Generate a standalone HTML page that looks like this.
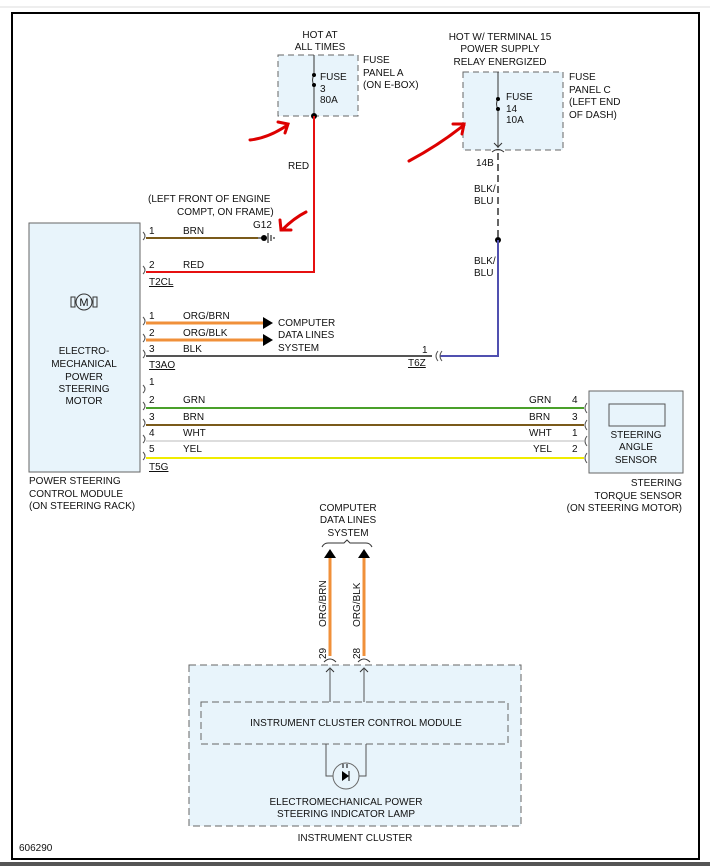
<!DOCTYPE html>
<html><head><meta charset="utf-8"><style>
html,body{margin:0;padding:0;background:#fff}
svg{display:block}
text{font-family:"Liberation Sans",sans-serif;font-size:10px;fill:#111}
</style></head><body>
<svg width="710" height="866" viewBox="0 0 710 866" xmlns="http://www.w3.org/2000/svg">
<line x1="0" y1="7" x2="710" y2="7" stroke="#ddd" stroke-width="1"/>
<rect x="12" y="13" width="687" height="846" fill="#fff" stroke="#000" stroke-width="2"/>
<rect x="0" y="862" width="710" height="4" fill="#555"/>

<!-- Fuse panel A -->
<rect x="278" y="55" width="80" height="61" fill="#e8f4fb" stroke="#666" stroke-dasharray="6,4"/>
<line x1="314" y1="55" x2="314" y2="75" stroke="#333"/>
<path d="M314 75 q-3 5 0 10" fill="none" stroke="#333"/>
<line x1="314" y1="85" x2="314" y2="116" stroke="#333"/>
<circle cx="314" cy="75" r="2" fill="#000"/><circle cx="314" cy="85" r="2" fill="#000"/>
<circle cx="314" cy="116" r="3" fill="#000"/>
<text x="320" y="80">FUSE</text><text x="320" y="92">3</text><text x="320" y="103">80A</text>
<text x="363" y="63">FUSE</text><text x="363" y="76">PANEL A</text><text x="363" y="88">(ON E-BOX)</text>
<text x="320" y="38" text-anchor="middle">HOT AT</text><text x="320" y="50" text-anchor="middle">ALL TIMES</text>
<path d="M314 116 V272 H146" fill="none" stroke="#e61010" stroke-width="2"/>
<text x="288" y="169">RED</text>

<!-- Fuse panel C -->
<rect x="463" y="72" width="100" height="78" fill="#e8f4fb" stroke="#666" stroke-dasharray="6,4"/>
<line x1="498" y1="72" x2="498" y2="99" stroke="#333"/>
<path d="M498 99 q-3 5 0 10" fill="none" stroke="#333"/>
<line x1="498" y1="109" x2="498" y2="148" stroke="#333"/>
<circle cx="498" cy="99" r="2" fill="#000"/><circle cx="498" cy="109" r="2" fill="#000"/>
<path d="M494 143 l4 4 l4 -4 M492 152 q6 -5 12 0" fill="none" stroke="#333"/>
<text x="506" y="100">FUSE</text><text x="506" y="112">14</text><text x="506" y="123">10A</text>
<text x="569" y="80">FUSE</text><text x="569" y="93">PANEL C</text><text x="569" y="105">(LEFT END</text><text x="569" y="118">OF DASH)</text>
<text x="500" y="40" text-anchor="middle">HOT W/ TERMINAL 15</text>
<text x="500" y="52" text-anchor="middle">POWER SUPPLY</text>
<text x="500" y="65" text-anchor="middle">RELAY ENERGIZED</text>
<text x="476" y="166">14B</text>
<line x1="498" y1="153" x2="498" y2="240" stroke="#666" stroke-width="2" stroke-dasharray="7,4"/>
<circle cx="498" cy="240" r="3" fill="#000"/>
<path d="M498 240 V356 H440" fill="none" stroke="#5050b0" stroke-width="2"/>
<text x="474" y="192">BLK/</text><text x="474" y="204">BLU</text>
<text x="474" y="264">BLK/</text><text x="474" y="276">BLU</text>

<!-- red arrows -->
<path d="M250 140 q18 -2 36 -14 M278 122 l10 2 l-3 9" fill="none" stroke="#d00" stroke-width="3" stroke-linecap="round"/>
<path d="M409 161 q30 -16 55 -36 M453 124 l11 0 l-2 10" fill="none" stroke="#d00" stroke-width="3" stroke-linecap="round"/>
<path d="M306 212 q-12 6 -24 18 M280 220 l1 10 l10 0" fill="none" stroke="#d00" stroke-width="3" stroke-linecap="round"/>

<!-- left module -->
<rect x="29" y="223" width="111" height="249" fill="#e8f4fb" stroke="#666"/>
<rect x="71" y="297" width="4" height="10" fill="none" stroke="#333"/>
<rect x="93" y="297" width="4" height="10" fill="none" stroke="#333"/>
<circle cx="84" cy="302" r="8" fill="#e8f4fb" stroke="#333"/>
<text x="84" y="306" text-anchor="middle" style="font-size:11px">M</text>
<text x="84" y="354" text-anchor="middle">ELECTRO-</text>
<text x="84" y="367" text-anchor="middle">MECHANICAL</text>
<text x="84" y="380" text-anchor="middle">POWER</text>
<text x="84" y="392" text-anchor="middle">STEERING</text>
<text x="84" y="404" text-anchor="middle">MOTOR</text>
<text x="29" y="484">POWER STEERING</text>
<text x="29" y="497">CONTROL MODULE</text>
<text x="29" y="509">(ON STEERING RACK)</text>

<g fill="none" stroke="#555">
<path d="M143 232 q4 4 0 8 M143 266 q4 4 0 8 M143 317 q4 4 0 8 M143 334 q4 4 0 8 M143 350 q4 4 0 8 M143 385 q4 4 0 8 M143 402 q4 4 0 8 M143 419 q4 4 0 8 M143 435 q4 4 0 8 M143 452 q4 4 0 8"/>
</g>
<line x1="146" y1="238" x2="258" y2="238" stroke="#7a5a1a" stroke-width="2"/>
<line x1="258" y1="238" x2="266" y2="238" stroke="#000"/>
<circle cx="264" cy="238" r="3" fill="#000"/>
<path d="M268 233 v10 M271 235 v6 M274 237 v2" stroke="#000"/>
<text x="253" y="228">G12</text>
<text x="148" y="202">(LEFT FRONT OF ENGINE</text>
<text x="177" y="215">COMPT, ON FRAME)</text>
<text x="149" y="234">1</text><text x="183" y="234">BRN</text>
<text x="149" y="268">2</text><text x="183" y="268">RED</text>
<text x="149" y="285" text-decoration="underline">T2CL</text>

<line x1="146" y1="323" x2="264" y2="323" stroke="#f0903a" stroke-width="3"/>
<line x1="146" y1="340" x2="264" y2="340" stroke="#f0903a" stroke-width="3"/>
<path d="M263 317 l10 6 l-10 6z M263 334 l10 6 l-10 6z" fill="#000"/>
<line x1="146" y1="356" x2="432" y2="356" stroke="#555" stroke-width="2"/>
<path d="M438 351 q-4 5 0 10 M442 351 q-4 5 0 10" fill="none" stroke="#555"/>
<text x="149" y="319">1</text><text x="183" y="319">ORG/BRN</text>
<text x="149" y="336">2</text><text x="183" y="336">ORG/BLK</text>
<text x="149" y="352">3</text><text x="183" y="352">BLK</text>
<text x="149" y="368" text-decoration="underline">T3AO</text>
<text x="422" y="353">1</text><text x="408" y="366" text-decoration="underline">T6Z</text>
<text x="278" y="326">COMPUTER</text><text x="278" y="338">DATA LINES</text><text x="278" y="351">SYSTEM</text>

<line x1="146" y1="408" x2="584" y2="408" stroke="#4aa02a" stroke-width="2"/>
<line x1="146" y1="425" x2="584" y2="425" stroke="#7a5a1a" stroke-width="2"/>
<line x1="146" y1="441" x2="584" y2="441" stroke="#ddd" stroke-width="2"/>
<line x1="146" y1="458" x2="584" y2="458" stroke="#f0ec00" stroke-width="2"/>
<path d="M587 403 q-4 5 0 10 M587 420 q-4 5 0 10 M587 436 q-4 5 0 10 M587 453 q-4 5 0 10" fill="none" stroke="#555"/>
<text x="149" y="385">1</text>
<text x="149" y="403">2</text><text x="183" y="403">GRN</text>
<text x="149" y="420">3</text><text x="183" y="420">BRN</text>
<text x="149" y="436">4</text><text x="183" y="436">WHT</text>
<text x="149" y="452">5</text><text x="183" y="452">YEL</text>
<text x="149" y="470" text-decoration="underline">T5G</text>
<text x="529" y="403">GRN</text><text x="572" y="403">4</text>
<text x="529" y="420">BRN</text><text x="572" y="420">3</text>
<text x="529" y="436">WHT</text><text x="572" y="436">1</text>
<text x="533" y="452">YEL</text><text x="572" y="452">2</text>

<rect x="589" y="391" width="94" height="82" fill="#e8f4fb" stroke="#666"/>
<rect x="609" y="404" width="56" height="22" fill="#e8f4fb" stroke="#555"/>
<text x="636" y="438" text-anchor="middle">STEERING</text>
<text x="636" y="450" text-anchor="middle">ANGLE</text>
<text x="636" y="463" text-anchor="middle">SENSOR</text>
<text x="682" y="486" text-anchor="end">STEERING</text>
<text x="682" y="499" text-anchor="end">TORQUE SENSOR</text>
<text x="682" y="511" text-anchor="end">(ON STEERING MOTOR)</text>

<!-- bottom -->
<text x="348" y="511" text-anchor="middle">COMPUTER</text>
<text x="348" y="523" text-anchor="middle">DATA LINES</text>
<text x="348" y="536" text-anchor="middle">SYSTEM</text>
<path d="M322 547 q2 -4 6 -4 h16 l3 -3 l3 3 h16 q4 0 6 4" fill="none" stroke="#333"/>
<path d="M324 558 l6 -9 l6 9z M358 558 l6 -9 l6 9z" fill="#000"/>
<line x1="330" y1="558" x2="330" y2="656" stroke="#f0903a" stroke-width="3"/>
<line x1="364" y1="558" x2="364" y2="656" stroke="#f0903a" stroke-width="3"/>
<text transform="translate(326,627) rotate(-90)">ORG/BRN</text>
<text transform="translate(360,627) rotate(-90)">ORG/BLK</text>
<text transform="translate(326,659) rotate(-90)">29</text>
<text transform="translate(360,659) rotate(-90)">28</text>
<rect x="189" y="665" width="332" height="161" fill="#e8f4fb" stroke="#666" stroke-dasharray="7,4"/>
<path d="M324 662 q6 -6 12 0 M358 662 q6 -6 12 0 M326 672 l4 -4 l4 4 M360 672 l4 -4 l4 4" fill="none" stroke="#333"/>
<path d="M330 668 V702 M364 668 V702" stroke="#555"/>
<rect x="201" y="702" width="307" height="42" fill="#e8f4fb" stroke="#666" stroke-dasharray="7,4"/>
<text x="356" y="726" text-anchor="middle">INSTRUMENT CLUSTER CONTROL MODULE</text>
<path d="M326 744 V776 H366 V744" fill="none" stroke="#555"/>
<circle cx="346" cy="776" r="13" fill="#e8f4fb" stroke="#666"/>
<path d="M342 771 l7 5 l-7 5z" fill="#000"/><line x1="349" y1="771" x2="349" y2="781" stroke="#000"/>
<path d="M343 768 v-4 M347 768 v-4" stroke="#000"/>
<text x="346" y="805" text-anchor="middle">ELECTROMECHANICAL POWER</text>
<text x="346" y="817" text-anchor="middle">STEERING INDICATOR LAMP</text>
<text x="355" y="841" text-anchor="middle">INSTRUMENT CLUSTER</text>
<text x="19" y="851">606290</text>
</svg>
</body></html>
